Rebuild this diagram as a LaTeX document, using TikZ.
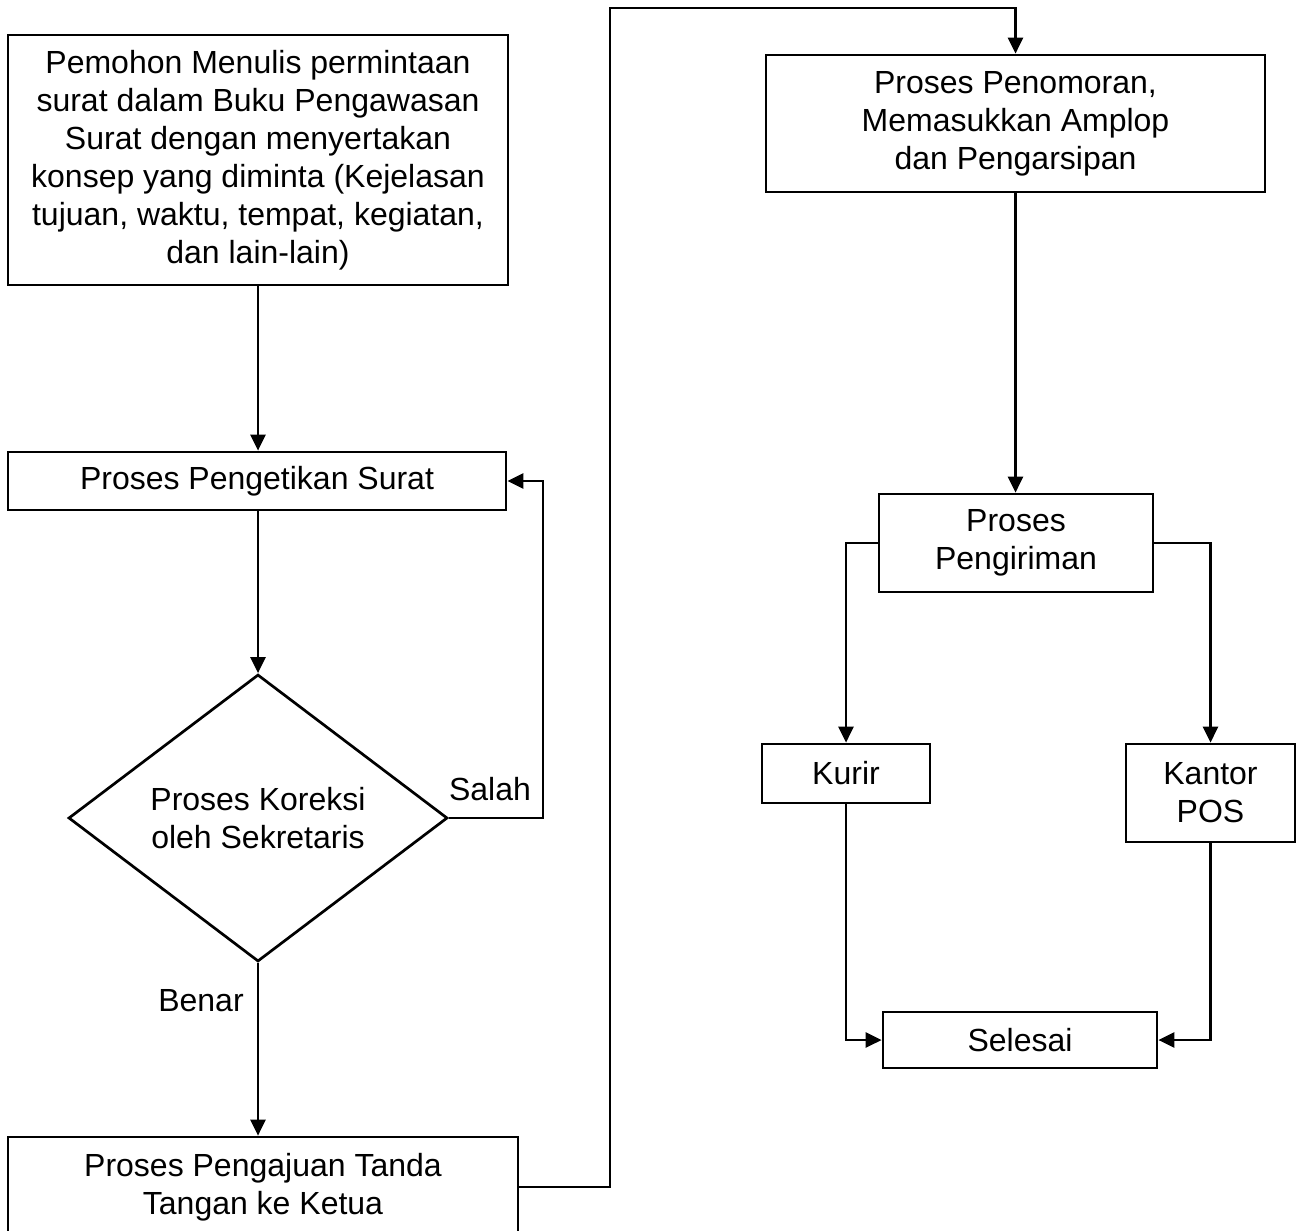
\documentclass[tikz,border=0pt]{standalone}
\usepackage{fontspec}
\setmainfont{Liberation Sans}
\usetikzlibrary{shapes.geometric,arrows.meta}
\begin{document}
\begin{tikzpicture}[x=1pt,y=-1pt,
  every node/.style={font=\fontsize{32}{38}\selectfont, align=center, inner sep=0pt},
  box/.style={draw, line width=2.7pt, rectangle},
  dia/.style={draw, line width=2.7pt, diamond, aspect=1.32},
  conn/.style={line width=2.7pt, -{Triangle[length=16pt,width=15pt]}},
  lbl/.style={}]
\useasboundingbox (0,0) rectangle (1299,1231);
\node[box, minimum width=500pt, minimum height=250pt] (n1) at (258,160)
  {Pemohon Menulis permintaan\\surat dalam Buku Pengawasan\\Surat dengan menyertakan\\konsep yang diminta (Kejelasan\\tujuan, waktu, tempat, kegiatan,\\dan lain-lain)};
\node[box, minimum width=498pt, minimum height=58pt] (n2) at (257,481) {Proses Pengetikan Surat};
\node[dia, minimum width=379pt, minimum height=287pt] (d) at (258,818) {Proses Koreksi\\oleh Sekretaris};
\node[box, minimum width=510pt, minimum height=100pt] (n4) at (263,1187) {Proses Pengajuan Tanda\\Tangan ke Ketua};
\node[box, minimum width=499pt, minimum height=137pt] (n5) at (1015.5,123.5) {Proses Penomoran,\\Memasukkan Amplop\\dan Pengarsipan};
\node[box, minimum width=274pt, minimum height=98pt] (n6) at (1016,543) {Proses\\Pengiriman};
\node[box, minimum width=168pt, minimum height=59pt] (kurir) at (846,773.5) {Kurir};
\node[box, minimum width=169pt, minimum height=98pt] (kantor) at (1210.5,793) {Kantor\\POS};
\node[box, minimum width=274pt, minimum height=56pt] (sel) at (1020,1040) {Selesai};
\coordinate (c1) at (610,8);
\coordinate (c2) at (543,818);
\draw[conn] (n1.south) -- (n1.south |- n2.north);
\draw[conn] (n2.south -| d.north) -- (d.north);
\draw[conn] (d.east) -- (c2) |- (n2.east);
\draw[conn] (d.south) -- (d.south |- n4.north);
\draw[conn] (n4.east) -| (c1) -| (n5.north);
\draw[conn] (n5.south) -- (n5.south |- n6.north);
\draw[conn] (n6.west) -| (kurir.north);
\draw[conn] (n6.east) -| (kantor.north);
\draw[conn] (kurir.south) |- (sel.west);
\draw[conn] (kantor.south) |- (sel.east);
\node[lbl] (salah) at (490,789) {Salah};
\node[lbl] (benar) at (201,1001) {Benar};
\end{tikzpicture}
\end{document}
